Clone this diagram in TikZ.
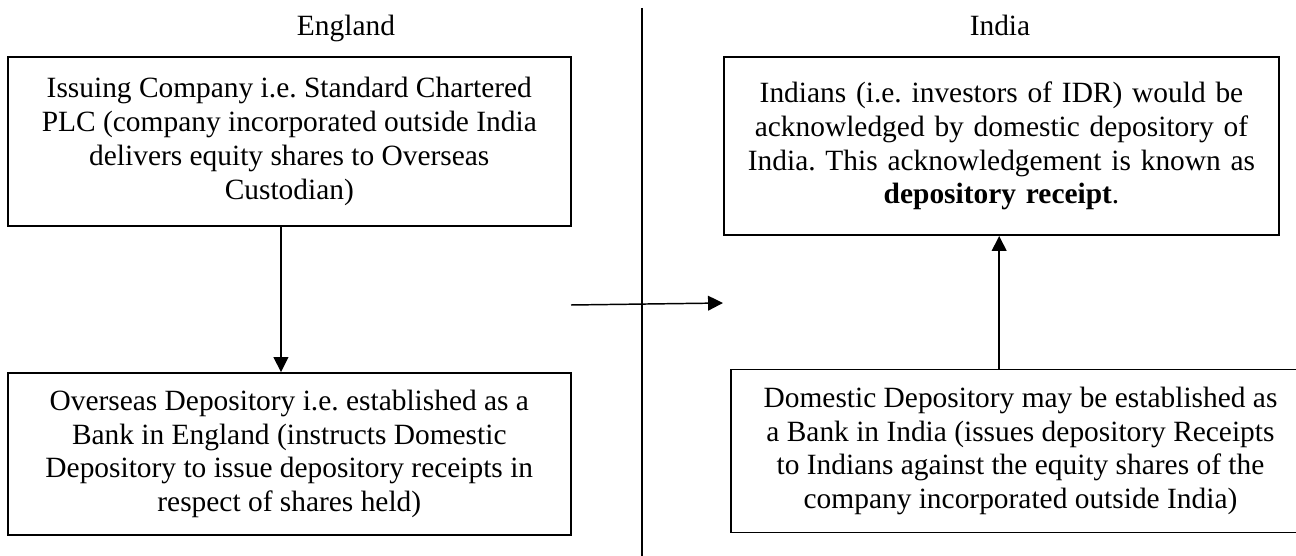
\documentclass[tikz,border=0pt]{standalone}
\usepackage{fontspec}
\setmainfont{Liberation Serif}
\usetikzlibrary{arrows.meta}
\frenchspacing

\tikzset{
  infobox/.style={draw, line width=0.8pt, align=center, inner sep=2pt,
    font=\fontsize{12pt}{13.8pt}\selectfont},
  side/.style={font=\fontsize{12pt}{13.8pt}\selectfont, anchor=base},
  link/.style={line width=0.6pt, -{Triangle[length=6.1pt,width=6pt]}}
}

\begin{document}
\begin{tikzpicture}[x=0.408pt,y=-0.408pt]
			\useasboundingbox (0,0) rectangle (1296,556);
			% country headings
			\node[side] (england) at (346,36) {England};
			\node[side] (india) at (1000,36) {India};
			% border between the two countries
			\coordinate (divtop) at (642,8);
			\coordinate (divbot) at (642,560);
			\draw[line width=0.6pt] (divtop) -- (divbot);
			% England side
			\node[infobox, minimum width=229.9pt, minimum height=69pt] (issuer) at (289.3,141.5)
				{Issuing Company i.e. Standard Chartered\\PLC (company incorporated outside India\\delivers equity shares to Overseas\\Custodian)};
			\node[infobox, minimum width=229.9pt, minimum height=66pt] (overseas) at (289.3,454)
				{Overseas Depository i.e. established as a\\Bank in England (instructs Domestic\\Depository to issue depository receipts in\\respect of shares held)};
			% India side
			\node[infobox, minimum width=226.4pt, minimum height=72.6pt, text width=220pt] (investors) at (1001.5,146)
				{Indians (i.e. investors of IDR) would be\\acknowledged by domestic depository of\\India. This acknowledgement is known as\\\textbf{depository receipt}.\par\vspace{7.3pt}};
			\node[infobox, minimum width=236.2pt, minimum height=66.5pt] (domestic) at (1020.5,451)
				{Domestic Depository may be established as\\a Bank in India (issues depository Receipts\\to Indians against the equity shares of the\\company incorporated outside India)};
			% flows
			\coordinate (crossfrom) at (571,305);
			\coordinate (crossto) at (723,303);
			\draw[link] ([xshift=-3.4pt]issuer.south) -- ([xshift=-3.4pt]overseas.north);
			\draw[link] (crossfrom) -- (crossto);
			\draw[link] ([xshift=-8.7pt]domestic.north) -- ([xshift=-8.7pt]domestic.north |- investors.south);
		\end{tikzpicture}
\end{document}
